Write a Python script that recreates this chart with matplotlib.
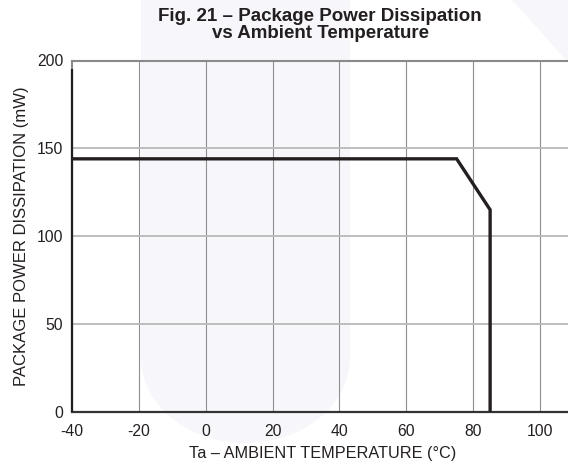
import matplotlib
matplotlib.use("Agg")
import matplotlib.pyplot as plt
from matplotlib.patches import Polygon
import numpy as np

# Data
temp_c = [-40, 75, 85, 85]
power_mw = [144, 144, 115, 0]
left_edge_x = [-40, -40]
left_edge_y = [0, 195]
x_ticks = [-40, -20, 0, 20, 40, 60, 80, 100]
y_ticks = [0, 50, 100, 150, 200]

plt.rcParams['font.family'] = ['Liberation Sans', 'DejaVu Sans']
plt.rcParams['axes.unicode_minus'] = False

W, H = 568, 468
fig = plt.figure(figsize=(W / 100, H / 100), dpi=100)
fig.patch.set_facecolor('white')

left = 71.7 / W
right = 573.8 / W
bottom = 1 - 411.7 / H
top = 1 - 60.5 / H
ax = fig.add_axes([left, bottom, right - left, top - bottom])
ax.set_facecolor('none')

# faint watermark decoration (figure pixel coords -> fraction)
def px(x, y):
    return (x / W, 1 - y / H)

wm = '#f7f6fa'
t = np.linspace(np.pi, 2 * np.pi, 40)
cx, cy, rx, ry = 245.5, 358, 104.5, 85
pts = [px(141, 0)] + [px(cx + rx * np.cos(a), cy - ry * np.sin(a)) for a in t] + [px(350, 0)]
ax.add_patch(Polygon(pts, closed=True, transform=fig.transFigure,
                     facecolor=wm, edgecolor='none', zorder=0.1, clip_on=False))
ax.add_patch(Polygon([px(512, 0), px(568, 0), px(568, 62)], closed=True,
                     transform=fig.transFigure, facecolor=wm,
                     edgecolor='none', zorder=0.1, clip_on=False))

ax.set_xlim(-40, 110)
ax.set_ylim(0, 200)
ax.set_xticks(x_ticks)
ax.set_yticks(y_ticks)
ax.tick_params(length=0, labelsize=11.3, colors='#231f20')
ax.tick_params(axis='x', pad=9)
ax.tick_params(axis='y', pad=6)

for xv in x_ticks[1:]:
    ax.axvline(xv, color='#8f8f8f', lw=0.8, zorder=1)
for yv in y_ticks[1:-1]:
    ax.axhline(yv, color='#b8b8b8', lw=1.3, zorder=1)

for s in ['top', 'left', 'right']:
    ax.spines[s].set_color('#8a8a8a')
    ax.spines[s].set_linewidth(1.5)
ax.spines['bottom'].set_color('#333333')
ax.spines['bottom'].set_linewidth(1.6)

ax.plot(left_edge_x, left_edge_y, color='#231f20', lw=1.6, zorder=3,
        solid_capstyle='butt', clip_on=False)
ax.plot(temp_c, power_mw, color='#231f20', lw=2.4, zorder=4,
        solid_joinstyle='miter', solid_capstyle='butt')

ax.set_xlabel('Ta – AMBIENT TEMPERATURE (°C)', fontsize=11.7, color='#231f20', labelpad=5)
ax.set_ylabel('PACKAGE POWER DISSIPATION (mW)', fontsize=12, color='#231f20', labelpad=6)

fig.text(320 / W, 1 - 25 / H, 'Fig. 21 – Package Power Dissipation\nvs Ambient Temperature',
         ha='center', va='center', fontsize=13.5, fontweight='bold', color='#231f20',
         linespacing=1.05)

fig.savefig('out.png', dpi=100)
